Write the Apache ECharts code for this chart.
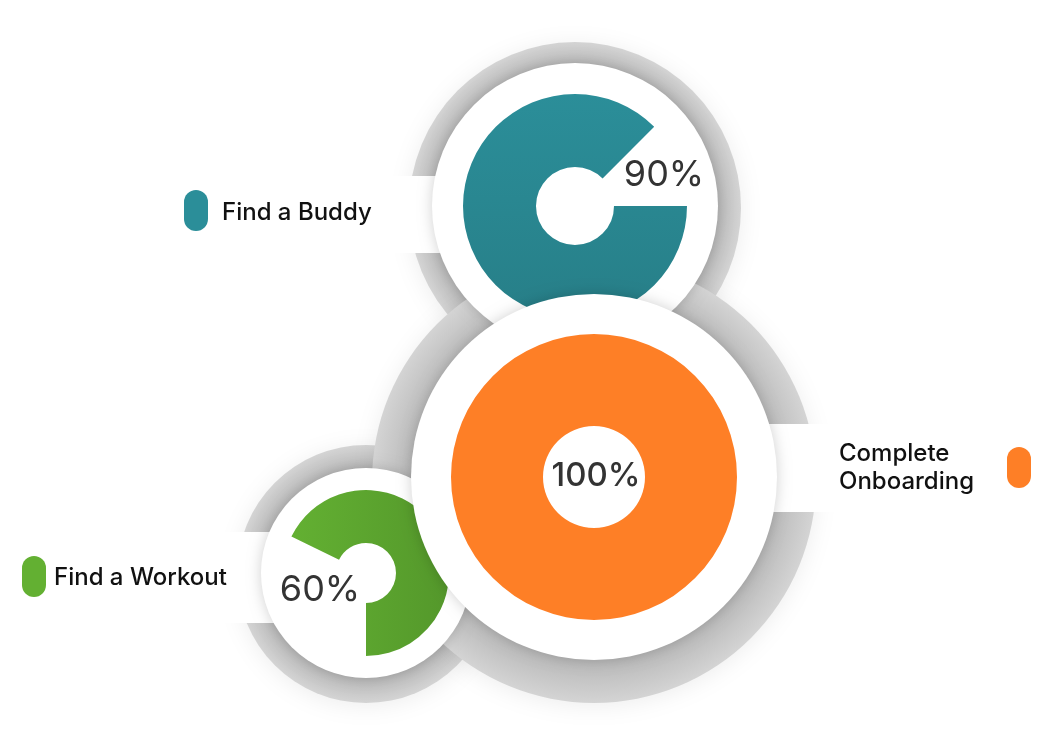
<!DOCTYPE html>
<html>
<head>
<meta charset="utf-8">
<script src="https://cdn.jsdelivr.net/npm/echarts@6/dist/echarts.min.js"></script>
<style>
html,body{margin:0;padding:0;background:#fff;}
#chart{width:1061px;height:748px;}
</style>
</head>
<body>
<div id="chart"></div>
<script>
// ---- data ----
const names = ['Find a Buddy', 'Find a Workout', 'Complete Onboarding'];
const values = [90, 60, 100];
const colorsA = ['#2b8e99', '#63b032', '#fe7f26'];
const colorsB = ['#277f88', '#54982b', '#fe7f26'];

// ---- layout (positions / sizes) ----
const layout = [
  { c: [575, 206], r: [39, 112], plate: 143, ring: [575, 208, 166], arc: [0, -315],
    gap: [370, 176, 205, 77], lab: [89, -31], z: 3, labFont: '400 36px Inter',
    pill: [184, 190], text: [222, 213] },
  { c: [366, 573], r: [30, 83], plate: 105, ring: [366, 574, 129], arc: [154, -90],
    gap: [200, 532, 166, 91], lab: [-46, 17], z: 5, labFont: '400 36px Inter',
    pill: [22, 556], text: [54, 578] },
  { c: [594, 477], r: [51, 143], plate: 183, ring: [594, 481, 222], arc: [90, -270],
    gap: [594, 424, 260, 88], lab: [2, -1], z: 7, labFont: '500 33px Inter',
    pill: [1007, 447], text: [839, 468] }
];

const chart = echarts.init(document.getElementById('chart'), null, { renderer: 'canvas' });

const graphics = [];
const series = [];
layout.forEach((L, i) => {
  const [rx, ry, rr] = L.ring;
  // gray ring disk
  graphics.push({
    type: 'circle', z: 1, silent: true,
    shape: { cx: rx, cy: ry, r: rr },
    style: {
      fill: { type: 'radial', x: 0.5, y: 0.5, r: 0.5, global: false,
        colorStops: [
          { offset: 0, color: '#b5b5b5' },
          { offset: L.plate / rr - 0.01, color: '#b9b9b9' },
          { offset: 1, color: '#d4d4d4' }
        ] },
      shadowBlur: 22, shadowColor: 'rgba(0,0,0,0.07)', shadowOffsetY: 3
    }
  });
  // gap cut
  graphics.push({
    type: 'rect', z: 2, silent: true,
    shape: { x: L.gap[0], y: L.gap[1], width: L.gap[2], height: L.gap[3] },
    style: { fill: '#ffffff' }
  });
  // white plate
  graphics.push({
    type: 'circle', z: L.z, silent: true,
    shape: { cx: L.c[0], cy: L.c[1], r: L.plate },
    style: { fill: '#ffffff', shadowBlur: 14, shadowColor: 'rgba(0,0,0,0.18)' }
  });
  // value label
  graphics.push({
    type: 'text', z: 30, silent: true,
    x: L.c[0] + L.lab[0], y: L.c[1] + L.lab[1],
    style: {
      text: values[i] + '%', fill: '#333333', font: L.labFont,
      align: 'center', verticalAlign: 'middle'
    }
  });
  // legend pill
  graphics.push({
    type: 'rect', z: 30, silent: true,
    shape: { x: L.pill[0], y: L.pill[1], width: 24, height: 41, r: 12 },
    style: { fill: colorsA[i] }
  });
  // legend text
  const label = i === 2 ? names[i].replace(' ', '\n') : names[i];
  graphics.push({
    type: 'text', z: 30, silent: true,
    x: L.text[0], y: L.text[1],
    style: {
      text: label, fill: '#111111', font: '500 24px Inter',
      align: 'left', verticalAlign: 'middle', lineHeight: 28
    }
  });

  series.push({
    type: 'pie', name: names[i], z: L.z + 1,
    center: L.c, radius: L.r,
    startAngle: L.arc[0], endAngle: L.arc[1],
    silent: true, animation: false,
    label: { show: false }, labelLine: { show: false },
    itemStyle: {
      color: { type: 'linear', x: 0, y: 0, x2: i === 1 ? 1 : 0, y2: i === 1 ? 0 : 1,
        colorStops: [{ offset: 0, color: colorsA[i] }, { offset: 1, color: colorsB[i] }] },
      borderWidth: 0
    },
    emphasis: { disabled: true },
    data: [{ name: names[i], value: values[i] }]
  });
});

chart.setOption({
  backgroundColor: '#ffffff',
  animation: false,
  graphic: { elements: graphics },
  series: series
});
</script>
</body>
</html>
